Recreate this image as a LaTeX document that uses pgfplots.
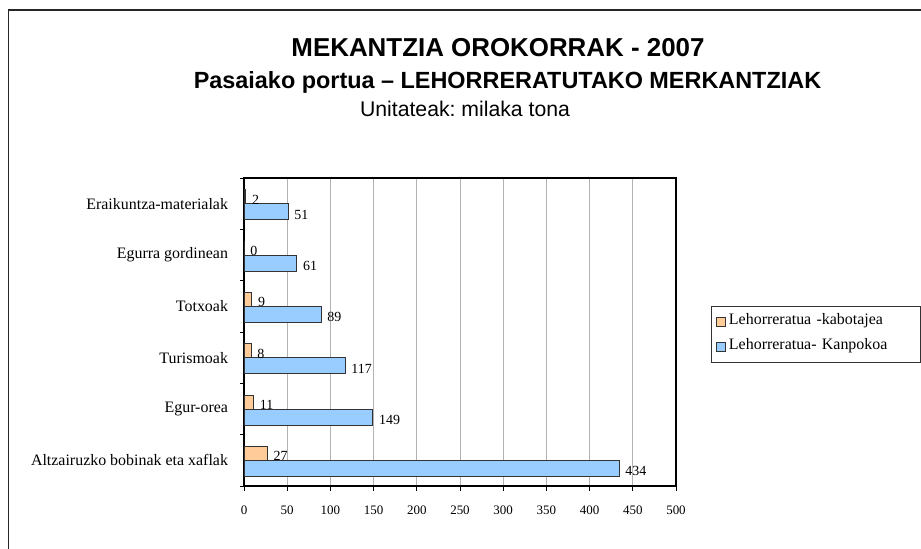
\documentclass[border=0pt]{standalone}
\usepackage{fontspec}
\setmainfont{Liberation Serif}
\newfontfamily\arial{Liberation Sans}
\usepackage{pgfplots}
\pgfplotsset{compat=1.18}
\definecolor{korange}{HTML}{FFCC99}
\definecolor{kblue}{HTML}{99CCFF}
\frenchspacing
\begin{document}
\begin{tikzpicture}[x=1bp,y=1bp]
\useasboundingbox (0,0) rectangle (921,-549);
\fill[white] (0,0) rectangle (921,-549);
\draw[line width=1.5bp, black!85] (8.5,-549) -- (8.5,-10) -- (921,-10);
\node[anchor=base, inner sep=0pt, font=\arial\bfseries\fontsize{26}{30}\selectfont] at (498,-57) {MEKANTZIA OROKORRAK - 2007};
\node[anchor=base, inner sep=0pt, font=\arial\bfseries\fontsize{23.5}{28}\selectfont] at (507.5,-88.3) {Pasaiako portua – LEHORRERATUTAKO MERKANTZIAK};
\node[anchor=base, inner sep=0pt, font=\arial\fontsize{21.3}{25}\selectfont] at (465,-116.7) {Unitateak: milaka tona};
\begin{axis}[
  at={(244bp,-486bp)}, anchor=south west,
  scale only axis, width=432bp, height=308bp,
  xmin=0, xmax=500, ymin=-0.5, ymax=5.5,
  enlargelimits=false,
  xtick={0,50,...,500},
  ytick={-0.5,0.5,...,5.5},
  y tick label as interval,
  yticklabels={Altzairuzko bobinak eta xaflak, Egur-orea, Turismoak, Totxoak, Egurra gordinean, Eraikuntza-materialak},
  /pgf/number format/assume math mode=true,
  xticklabel style={font=\fontsize{13}{15}\selectfont, yshift=-12bp},
  yticklabel style={font=\fontsize{16}{18}\selectfont, xshift=-8bp},
  tick align=outside,
  tick pos=left,
  major tick length=4.5bp,
  tick style={black, line width=0.8bp},
  xmajorgrids, ymajorgrids=false,
  major grid style={gray!60, line width=0.9bp},
  axis line style={black, line width=1.2bp},
  point meta=x,
  nodes near coords,
  nodes near coords style={font=\fontsize{14}{16}\selectfont, anchor=west, inner sep=2bp, xshift=4bp},
  legend style={at={(1.081,0.586)}, anchor=north west, draw=black!80, fill=white,
    font=\fontsize{16}{18}\selectfont, inner xsep=5bp, inner ysep=6bp, row sep=6bp,
    nodes={inner xsep=3bp, inner ysep=2bp, text height=11bp, text depth=4bp, text width=183bp, align=left}},
  legend cell align=left,
  legend image code/.code={\draw[#1, draw=black!80, line width=0.8bp] (0bp,-5bp) rectangle (9bp,4bp);},
]
\addplot[xbar, bar width=14bp, bar shift=7bp, fill=korange, draw=black!80, line width=0.8bp,
  nodes near coords style={yshift=4bp}]
  coordinates {(27,0) (11,1) (8,2) (9,3) (0,4) (2,5)};
\addlegendentry{Lehorreratua -kabotajea}
\addplot[xbar, bar width=16bp, bar shift=-8bp, fill=kblue, draw=black!80, line width=0.8bp,
  nodes near coords style={yshift=-11bp}]
  coordinates {(434,0) (149,1) (117,2) (89,3) (61,4) (51,5)};
\addlegendentry{Lehorreratua- Kanpokoa}
\end{axis}
\end{tikzpicture}
\end{document}
